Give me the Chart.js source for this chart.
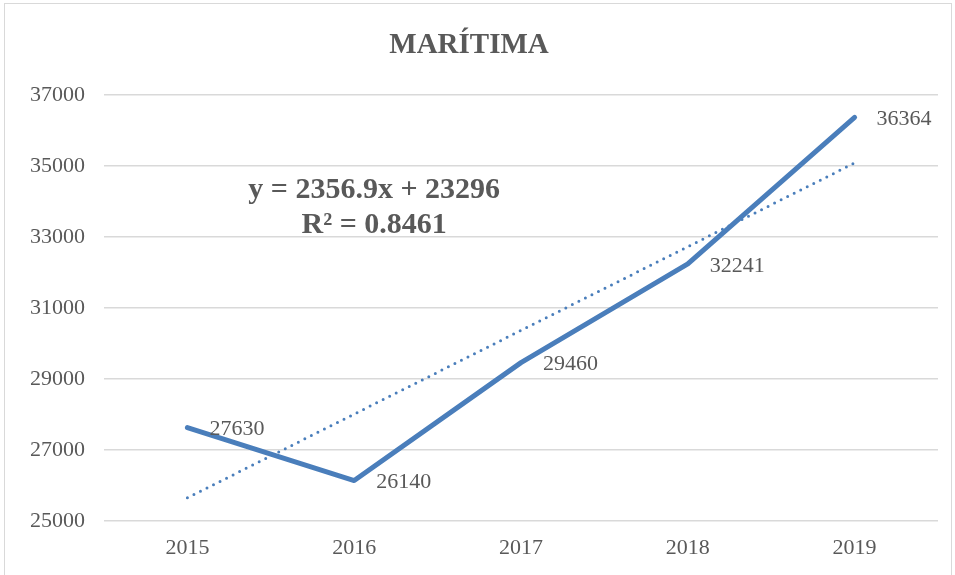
<!DOCTYPE html>
<html>
<head>
<meta charset="utf-8">
<script src="https://cdn.jsdelivr.net/npm/chart.js@4.4.0/dist/chart.umd.min.js"></script>
<style>
  html, body { margin: 0; padding: 0; background: #fff; }
  #wrap { width: 955px; height: 575px; }
</style>
</head>
<body>
<div id="wrap"><canvas id="line_chart"></canvas></div>
<script>
var years = ["2015", "2016", "2017", "2018", "2019"];
var maritima = [27630, 26140, 29460, 32241, 36364];
// linear trend
var trend = [25653, 28010, 30367, 32724, 35081];
var equationLines = ["y = 2356.9x + 23296", "R² = 0.8461"];

var textColor = '#595959';
var lineColor = '#4A7EBB';
var serif = "'Liberation Serif', 'Times New Roman', serif";

var framePlugin = {
    id: 'frame',
    beforeDraw: function (chart) {
        var ctx = chart.ctx;
        ctx.save();
        ctx.fillStyle = '#fff';
        ctx.fillRect(0, 0, chart.width, chart.height);
        ctx.strokeStyle = '#d9d9d9';
        ctx.lineWidth = 1;
        ctx.strokeRect(4.5, 3.5, 947, 580);
        ctx.restore();
    }
};

var labelsPlugin = {
    id: 'pointLabels',
    afterDatasetsDraw: function (chart) {
        var ctx = chart.ctx;
        var meta = chart.getDatasetMeta(0);
        ctx.save();
        ctx.font = "22px " + serif;
        ctx.fillStyle = textColor;
        ctx.textAlign = 'left';
        ctx.textBaseline = 'middle';
        meta.data.forEach(function (pt, i) {
            ctx.fillText(String(maritima[i]), pt.x + 22, pt.y + 2);
        });

        // trendline equation
        var area = chart.chartArea;
        var cx = area.left + (area.right - area.left) * 0.324;
        var cy = area.top + (area.bottom - area.top) * 0.225;
        ctx.font = "bold 30px " + serif;
        ctx.textAlign = 'center';
        equationLines.forEach(function (t, i) {
            ctx.fillText(t, cx, cy + i * 35);
        });
        ctx.restore();
    }
};

new Chart(document.getElementById("line_chart").getContext("2d"), {
    type: 'line',
    data: {
        labels: years,
        datasets: [{
            label: "MARÍTIMA",
            data: maritima,
            borderColor: lineColor,
            backgroundColor: lineColor,
            borderWidth: 5,
            borderCapStyle: 'round',
            borderJoinStyle: 'round',
            pointRadius: 0,
            tension: 0
        }, {
            label: "Lineal",
            data: trend,
            borderColor: lineColor,
            borderWidth: 3,
            borderDash: [0, 7.3],
            borderCapStyle: 'round',
            pointRadius: 0,
            tension: 0
        }]
    },
    options: {
        responsive: true,
        maintainAspectRatio: false,
        animation: false,
        layout: {
            padding: { left: 0, right: 17, top: 0, bottom: 0 }
        },
        plugins: {
            legend: { display: false },
            tooltip: { enabled: false },
            title: {
                display: true,
                text: "MARÍTIMA",
                color: textColor,
                font: { family: serif, size: 29, weight: 'bold', lineHeight: 1.2 },
                padding: { top: 28, bottom: 32 }
            }
        },
        scales: {
            x: {
                offset: true,
                grid: { display: false, drawTicks: false },
                border: { display: false },
                afterFit: function (scale) { scale.height = 54; },
                ticks: {
                    color: textColor,
                    padding: 14,
                    font: { family: serif, size: 22 }
                }
            },
            y: {
                min: 25000,
                max: 37000,
                grid: { color: '#d9d9d9', lineWidth: 1.5, drawTicks: false },
                border: { display: false },
                afterFit: function (scale) { scale.width = 104; },
                ticks: {
                    stepSize: 2000,
                    color: textColor,
                    padding: 19,
                    font: { family: serif, size: 22 },
                    callback: function (v) { return String(v); }
                }
            }
        }
    },
    plugins: [framePlugin, labelsPlugin]
});
</script>
</body>
</html>
